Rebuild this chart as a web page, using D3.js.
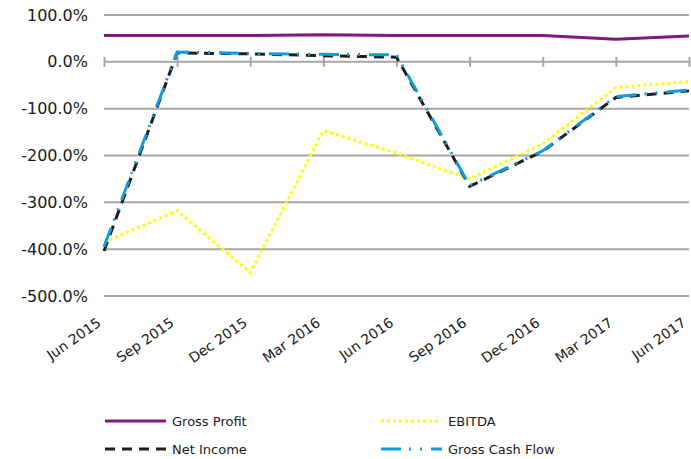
<!DOCTYPE html>
<meta charset="utf-8">
<script src="https://d3js.org/d3.v7.min.js"></script>
<style>
  body { margin: 0; background: #fff; }
  text { font-family: "DejaVu Sans", sans-serif; fill: #1a1a1a; }
</style>
<svg width="691" height="459"></svg>

<script>
// quarters on the category axis
var quarters = ["Jun 2015", "Sep 2015", "Dec 2015", "Mar 2016", "Jun 2016",
                "Sep 2016", "Dec 2016", "Mar 2017", "Jun 2017"];

// values in percent
var grossProfit   = [56, 56, 56, 58, 56, 56, 56, 48, 55];
var netIncome     = [-404, 19, 17, 13, 10, -266, -191, -76, -62];
var ebitda        = [-385, -318, -450, -147, -195, -250, -175, -55, -42];
var grossCashFlow = [-395, 21, 18, 16, 15, -264, -190, -74, -60];

var yTicks = [100, 0, -100, -200, -300, -400, -500];

var series = [
  { name: "Gross Profit", values: grossProfit, color: "#80187f", dash: null },
  { name: "EBITDA", values: ebitda, color: "#ffff00", dash: "3,3" },
  { name: "Net Income", values: netIncome, color: "#1e1e1e", dash: "10,7" },
  { name: "Gross Cash Flow", values: grossCashFlow, color: "#129cd8", dash: "20,8,2,9,2,9" }
];

var svg = d3.select("svg");

var x = d3.scalePoint()
    .domain(quarters)
    .range([104, 689]);

var y = d3.scaleLinear()
    .domain([-500, 100])
    .range([296, 15]);

// gridlines
svg.append("g")
  .selectAll("line")
  .data(yTicks)
  .enter().append("line")
    .attr("x1", 104)
    .attr("x2", 689)
    .attr("y1", function (d) { return y(d); })
    .attr("y2", function (d) { return y(d); })
    .attr("stroke", "#a6a6a6")
    .attr("stroke-width", 2);

// y labels
svg.append("g")
  .selectAll("text")
  .data(yTicks)
  .enter().append("text")
    .attr("x", 88)
    .attr("y", function (d) { return y(d); })
    .attr("dy", "0.35em")
    .attr("text-anchor", "end")
    .attr("font-size", 16)
    .text(function (d) { return d.toFixed(1) + "%"; });

// category axis sits on the zero line
var xAxis = svg.append("g")
    .attr("transform", "translate(0," + y(0) + ")")
    .call(d3.axisBottom(x).tickSize(5).tickFormat(""));
xAxis.select(".domain").remove();
xAxis.selectAll(".tick line")
    .attr("y1", -5)
    .attr("y2", 5)
    .attr("stroke", "#a6a6a6")
    .attr("stroke-width", 2);

// rotated quarter labels below the plot
svg.append("g")
  .selectAll("text")
  .data(quarters)
  .enter().append("text")
    .attr("transform", function (d) { return "translate(" + (x(d) - 2) + ",325) rotate(-35)"; })
    .attr("text-anchor", "end")
    .attr("font-size", 14)
    .text(function (d) { return d; });

var line = d3.line()
    .x(function (d, i) { return x(quarters[i]); })
    .y(function (d) { return y(d); });

svg.append("g")
  .selectAll("path")
  .data(series)
  .enter().append("path")
    .attr("d", function (d) { return line(d.values); })
    .attr("fill", "none")
    .attr("stroke", function (d) { return d.color; })
    .attr("stroke-width", 3)
    .attr("stroke-dasharray", function (d) { return d.dash; });

// legend, two columns
var legend = svg.append("g")
  .selectAll("g")
  .data(series)
  .enter().append("g")
    .attr("transform", function (d, i) {
      return "translate(" + (i % 2 === 0 ? 105 : 381) + "," + (i < 2 ? 421 : 449) + ")";
    });

legend.append("line")
    .attr("x1", 0)
    .attr("x2", 61)
    .attr("stroke", function (d) { return d.color; })
    .attr("stroke-width", 3)
    .attr("stroke-dasharray", function (d) { return d.dash; });

legend.append("text")
    .attr("x", 67)
    .attr("dy", "0.35em")
    .attr("font-size", 13)
    .text(function (d) { return d.name; });
</script>
